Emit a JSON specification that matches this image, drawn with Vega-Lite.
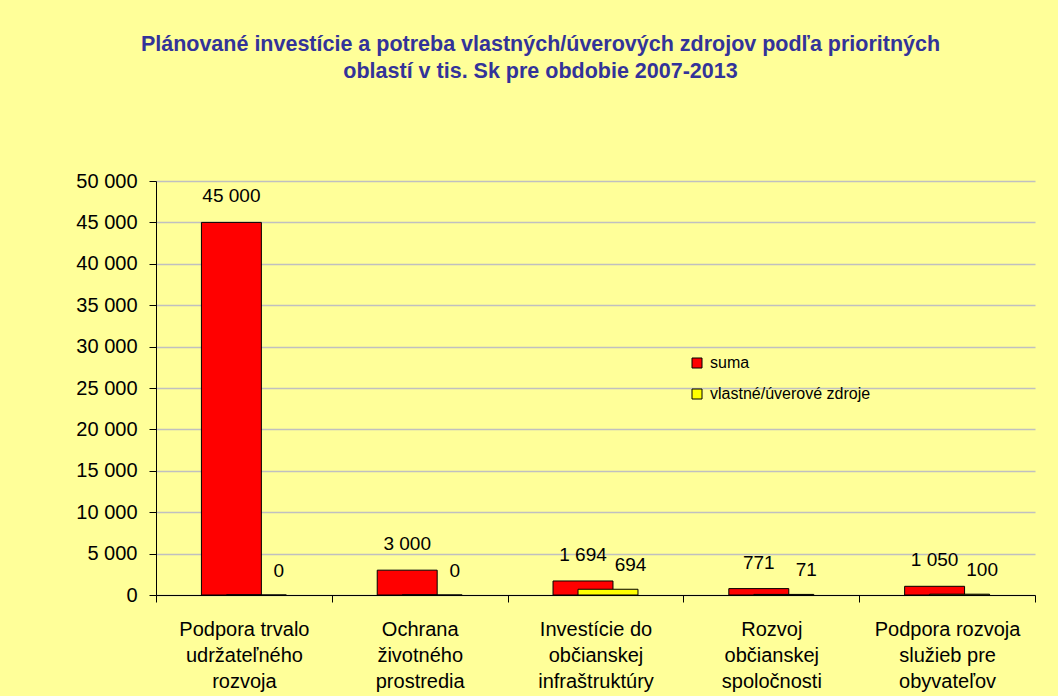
{
  "$schema": "https://vega.github.io/schema/vega-lite/v6.json",
  "width": 879,
  "height": 414,
  "autosize": {"type": "none"},
  "padding": {"left": 156, "top": 181, "right": 23, "bottom": 101},
  "background": "#FFFF99",
  "config": {
    "view": {"stroke": null},
    "font": "Liberation Sans",
    "locale": {"number": {"decimal": ",", "thousands": " ", "grouping": [3], "currency": ["", " Sk"]}}
  },
  "title": {
    "text": ["Plánované investície a potreba vlastných/úverových zdrojov podľa prioritných", "oblastí v tis. Sk pre obdobie 2007-2013"],
    "font": "Liberation Sans",
    "fontSize": 21.5,
    "fontWeight": "bold",
    "color": "#333399",
    "lineHeight": 27,
    "anchor": "middle",
    "dx": -55,
    "offset": 89
  },
  "data": {
    "values": [
      {"cat": "Podpora trvalo|udržateľného|rozvoja", "series": "suma", "value": 45000},
      {"cat": "Ochrana|životného|prostredia", "series": "suma", "value": 3000},
      {"cat": "Investície do|občianskej|infraštruktúry", "series": "suma", "value": 1694},
      {"cat": "Rozvoj|občianskej|spoločnosti", "series": "suma", "value": 771},
      {"cat": "Podpora rozvoja|služieb pre|obyvateľov", "series": "suma", "value": 1050},
      {"cat": "Podpora trvalo|udržateľného|rozvoja", "series": "vlastné/úverové zdroje", "value": 0},
      {"cat": "Ochrana|životného|prostredia", "series": "vlastné/úverové zdroje", "value": 0},
      {"cat": "Investície do|občianskej|infraštruktúry", "series": "vlastné/úverové zdroje", "value": 694},
      {"cat": "Rozvoj|občianskej|spoločnosti", "series": "vlastné/úverové zdroje", "value": 71},
      {"cat": "Podpora rozvoja|služieb pre|obyvateľov", "series": "vlastné/úverové zdroje", "value": 100}
    ]
  },
  "encoding": {
    "x": {
      "field": "cat",
      "type": "nominal",
      "sort": null,
      "scale": {"paddingInner": 0, "paddingOuter": 0},
      "axis": {
        "title": null,
        "labelAngle": 0,
        "labelExpr": "datum.value ? split(datum.value, '|') : ''",
        "labelFontSize": 20,
        "labelColor": "black",
        "labelLineHeight": 26,
        "labelPadding": 17,
        "labelLimit": 0,
        "labelBaseline": "top",
        "tickBand": "extent",
        "tickSize": 7,
        "tickColor": "black",
        "domainColor": "black",
        "grid": false
      }
    },
    "y": {
      "field": "value",
      "type": "quantitative",
      "scale": {"domain": [0, 50000], "nice": false},
      "axis": {
        "title": null,
        "values": [0, 5000, 10000, 15000, 20000, 25000, 30000, 35000, 40000, 45000, 50000],
        "format": ",d",
        "labelFontSize": 20,
        "labelColor": "black",
        "labelPadding": 12,
        "tickSize": 7,
        "tickColor": "black",
        "domainColor": "black",
        "gridColor": "#C0C0C0",
        "gridWidth": 1.5,
        "gridOpacity": 1
      }
    }
  },
  "layer": [
    {
      "transform": [{"filter": "datum.series === 'suma'"}],
      "mark": {"type": "bar", "width": {"band": 0.341}, "xOffset": -12.5, "stroke": "black", "strokeWidth": 1},
      "encoding": {
        "color": {
          "field": "series",
          "type": "nominal",
          "scale": {"domain": ["suma", "vlastné/úverové zdroje"], "range": ["#FF0000", "#FFFF00"]},
          "legend": {
            "orient": "none",
            "legendX": 533,
            "legendY": 174,
            "title": null,
            "symbolType": "square",
            "symbolSize": 100,
            "symbolStrokeColor": "black",
            "symbolStrokeWidth": 1,
            "labelFontSize": 16,
            "labelColor": "black",
            "labelOffset": 5,
            "labelLimit": 0,
            "rowPadding": 15
          }
        }
      }
    },
    {
      "transform": [{"filter": "datum.series !== 'suma'"}],
      "mark": {"type": "bar", "width": {"band": 0.341}, "xOffset": 12.5, "stroke": "black", "strokeWidth": 1},
      "encoding": {
        "color": {"field": "series", "type": "nominal"}
      }
    },
    {
      "transform": [{"filter": "datum.series === 'suma'"}],
      "mark": {"type": "text", "xOffset": -12.5, "dy": -26, "baseline": "middle", "fontSize": 19, "color": "black"},
      "encoding": {
        "text": {"field": "value", "type": "quantitative", "format": ",d"}
      }
    },
    {
      "transform": [{"filter": "datum.series !== 'suma'"}],
      "mark": {"type": "text", "xOffset": 35, "dy": -24, "baseline": "middle", "fontSize": 19, "color": "black"},
      "encoding": {
        "text": {"field": "value", "type": "quantitative", "format": ",d"}
      }
    }
  ]
}
